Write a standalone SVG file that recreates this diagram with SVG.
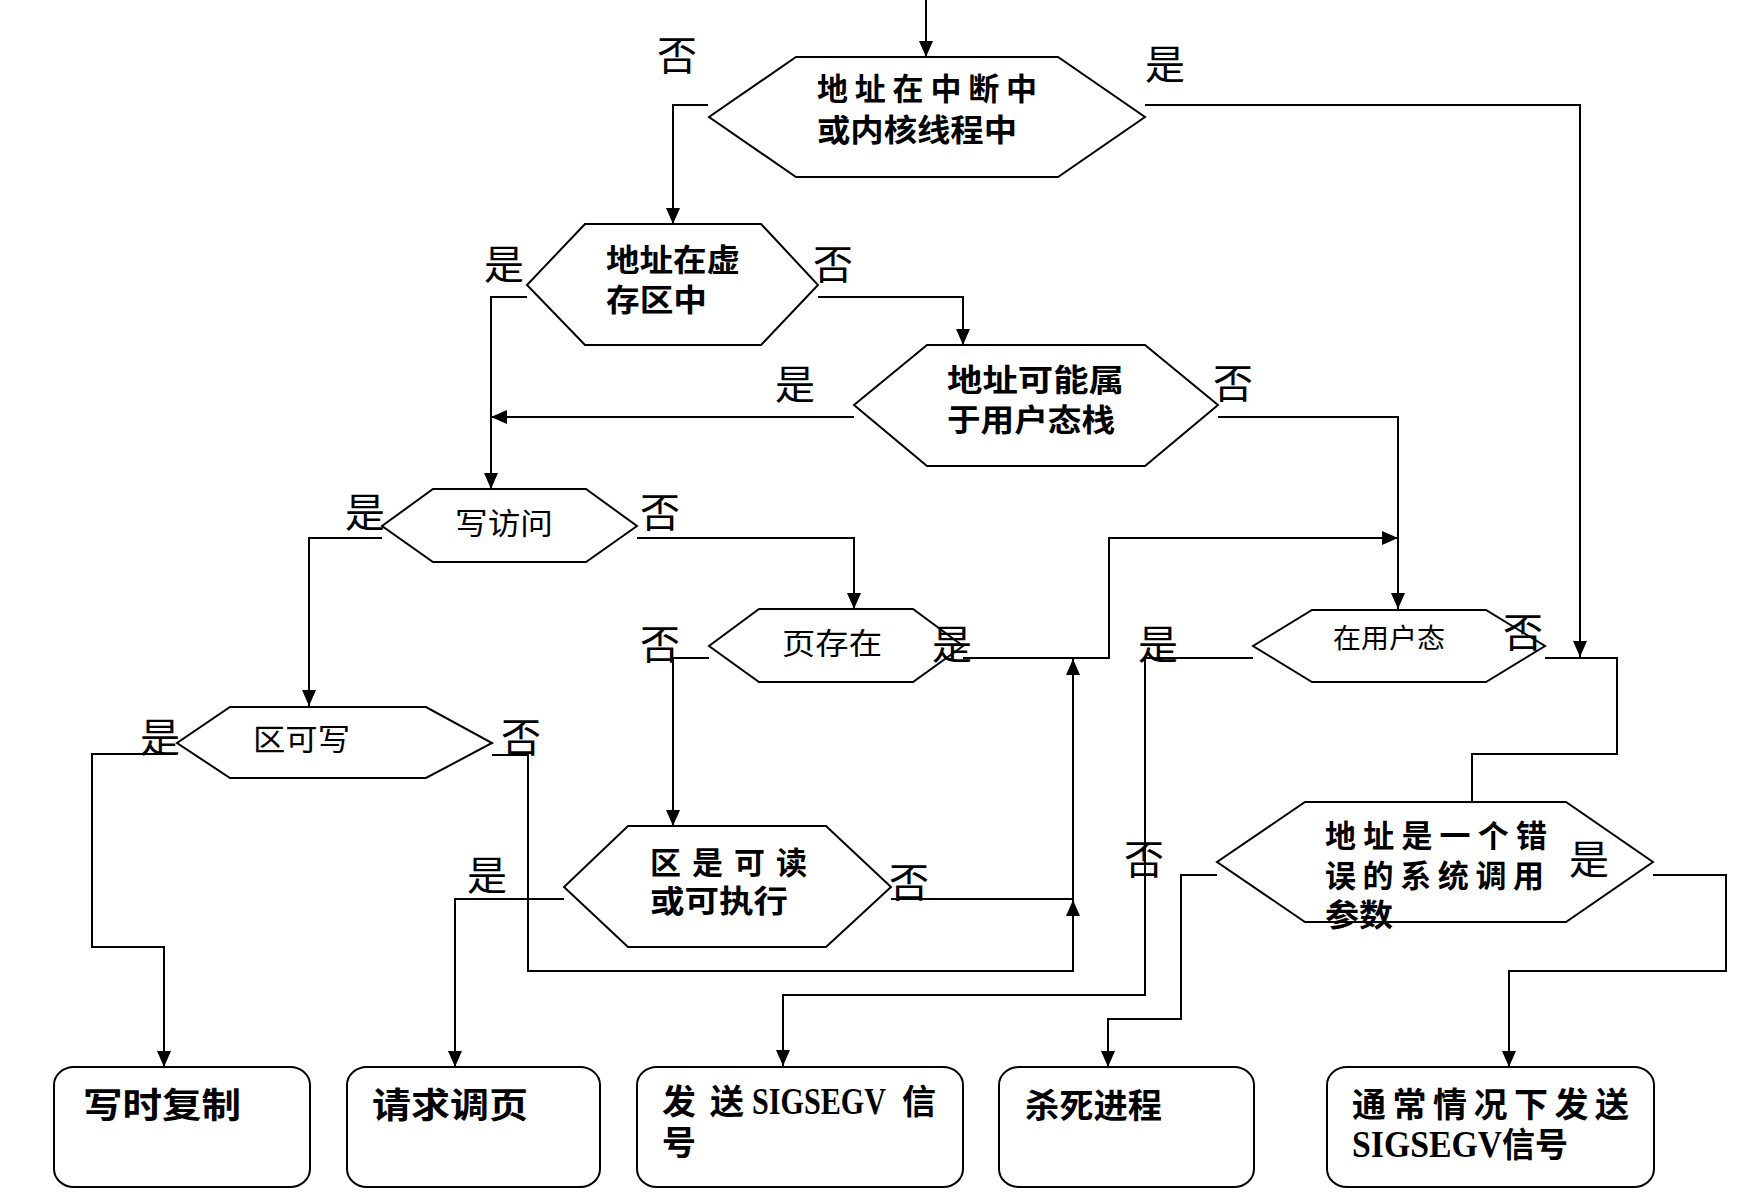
<svg xmlns="http://www.w3.org/2000/svg" width="1748" height="1194" viewBox="0 0 1748 1194">
<style>
.ln{fill:none;stroke:#000;stroke-width:2}
.ar{marker-end:url(#ah)}
.hx{fill:#fff;stroke:#000;stroke-width:2}
.bx{fill:#fff;stroke:#000;stroke-width:2}
.t{font-family:"Noto Sans CJK SC","Liberation Sans",sans-serif;fill:#000}
.b{font-weight:bold}
.f31{font-size:31px}
.f30{font-size:30px}
.f34{font-size:34px}
.lat{font-family:"Liberation Serif","Noto Sans CJK SC",serif;font-weight:bold;font-size:37px}
.lb{font-family:"Noto Sans CJK SC",sans-serif;font-size:40px;fill:#000}
</style>
<defs>
<marker id="ah" markerUnits="userSpaceOnUse" markerWidth="16" markerHeight="14" viewBox="0 0 16 14" refX="16" refY="7" orient="auto">
<path d="M0,0 L16,7 L0,14 z" fill="#000"/>
</marker>
</defs>
<rect width="1748" height="1194" fill="#fff"/>
<g id="connectors">
<path class="ln ar" d="M926,0 V57"/>
<path class="ln ar" d="M708,105 H673 V224"/>
<path class="ln ar" d="M1145,105 H1580 V657"/>
<path class="ln ar" d="M527,297 H491 V489"/>
<path class="ln ar" d="M818,297 H963 V345"/>
<path class="ln ar" d="M854,417 H491"/>
<path class="ln ar" d="M1218,417 H1398 V609"/>
<path class="ln ar" d="M382,538 H309 V706"/>
<path class="ln ar" d="M637,538 H854 V609"/>
<path class="ln ar" d="M709,658 H673 V826"/>
<path class="ln ar" d="M963,658 H1109 V538 H1398"/>
<path class="ln" d="M1253,658 H1145 V995 H783"/>
<path class="ln ar" d="M783,994 V1066"/>
<path class="ln" d="M1545,658 H1617 V754 H1472 V802"/>
<path class="ln" d="M177,754 H92 V947 H164"/>
<path class="ln ar" d="M164,946 V1067"/>
<path class="ln" d="M492,755 H528 V971 H1073"/>
<path class="ln ar" d="M1073,972 V900"/>
<path class="ln" d="M564,899 H455"/>
<path class="ln ar" d="M455,898 V1067"/>
<path class="ln" d="M891,899 H1073"/>
<path class="ln ar" d="M1073,900 V659"/>
<path class="ln" d="M1217,875 H1181 V1019 H1108"/>
<path class="ln ar" d="M1108,1018 V1067"/>
<path class="ln" d="M1653,875 H1726 V971 H1509"/>
<path class="ln ar" d="M1509,970 V1067"/>
</g>
<g id="n-interrupt">
<polygon class="hx" points="796,57 1058,57 1145,117 1058,177 796,177 709,117"/>
<text class="t b f31" x="817" y="100" textLength="220">地址在中断中</text>
<text class="t b f31" x="817" y="141" textLength="200" lengthAdjust="spacingAndGlyphs">或内核线程中</text>
</g>
<g id="n-vm">
<polygon class="hx" points="585,224 761,224 818,285 761,345 585,345 527,285"/>
<text class="t b f31" x="606" y="271" textLength="134" lengthAdjust="spacingAndGlyphs">地址在虚</text>
<text class="t b f31" x="606" y="311" textLength="101" lengthAdjust="spacingAndGlyphs">存区中</text>
</g>
<g id="n-stack">
<polygon class="hx" points="927,345 1145,345 1218,405 1145,466 927,466 854,405"/>
<text class="t b f31" x="947" y="391" textLength="177" lengthAdjust="spacingAndGlyphs">地址可能属</text>
<text class="t b f31" x="947" y="431" textLength="168" lengthAdjust="spacingAndGlyphs">于用户态栈</text>
</g>
<g id="n-write">
<polygon class="hx" points="433,489 586,489 637,526 586,562 433,562 382,526"/>
<text class="t f30" x="455" y="534" textLength="98" lengthAdjust="spacingAndGlyphs">写访问</text>
</g>
<g id="n-page">
<polygon class="hx" points="759,609 913,609 963,646 913,682 759,682 709,646"/>
<text class="t f30" x="782" y="654" textLength="100" lengthAdjust="spacingAndGlyphs">页存在</text>
</g>
<g id="n-usermode">
<polygon class="hx" points="1312,610 1486,610 1545,646 1486,682 1312,682 1253,646"/>
<text class="t" style="font-size:27px" x="1333" y="648" textLength="112" lengthAdjust="spacingAndGlyphs">在用户态</text>
</g>
<g id="n-writable">
<polygon class="hx" points="230,707 426,707 492,743 426,778 230,778 177,743"/>
<text class="t f30" x="253" y="750" textLength="97" lengthAdjust="spacingAndGlyphs">区可写</text>
</g>
<g id="n-readable">
<polygon class="hx" points="628,826 826,826 891,887 826,947 628,947 564,887"/>
<text class="t b f31" x="650" y="874" textLength="157">区是可读</text>
<text class="t b f31" x="650" y="912" textLength="138" lengthAdjust="spacingAndGlyphs">或可执行</text>
</g>
<g id="n-syscall">
<polygon class="hx" points="1305,802 1566,802 1653,862 1566,922 1305,922 1217,862"/>
<text class="t b f31" x="1325" y="847" textLength="222">地址是一个错</text>
<text class="t b f31" x="1325" y="887" textLength="219">误的系统调用</text>
<text class="t b f31" x="1325" y="926" textLength="68" lengthAdjust="spacingAndGlyphs">参数</text>
</g>
<g id="b-cow">
<rect class="bx" x="54" y="1067" width="256" height="120" rx="20" ry="18"/>
<text class="t b" style="font-size:35px" x="83" y="1118" textLength="158" lengthAdjust="spacingAndGlyphs">写时复制</text>
</g>
<g id="b-demand">
<rect class="bx" x="347" y="1067" width="253" height="120" rx="20" ry="18"/>
<text class="t b" style="font-size:35px" x="372" y="1118" textLength="156" lengthAdjust="spacingAndGlyphs">请求调页</text>
</g>
<g id="b-sigsegv">
<rect class="bx" x="637" y="1067" width="326" height="120" rx="20" ry="18"/>
<text class="t b f34" y="1114"><tspan x="662">发</tspan><tspan x="710">送</tspan><tspan class="lat" x="752" textLength="134" lengthAdjust="spacingAndGlyphs">SIGSEGV</tspan><tspan x="902">信</tspan></text>
<text class="t b f34" x="662" y="1155">号</text>
</g>
<g id="b-kill">
<rect class="bx" x="999" y="1067" width="255" height="120" rx="20" ry="18"/>
<text class="t b" style="font-size:34px" x="1025" y="1118" textLength="137" lengthAdjust="spacingAndGlyphs">杀死进程</text>
</g>
<g id="b-usual">
<rect class="bx" x="1327" y="1067" width="327" height="120" rx="20" ry="18"/>
<text class="t b f34" x="1352" y="1117" textLength="277">通常情况下发送</text>
<text class="t b f34" y="1157"><tspan class="lat" x="1352" textLength="150" lengthAdjust="spacingAndGlyphs">SIGSEGV</tspan><tspan x="1502" textLength="66" lengthAdjust="spacingAndGlyphs">信号</tspan></text>
</g>
<g id="labels">
<text class="lb" x="657" y="70">否</text>
<text class="lb" x="1145" y="79">是</text>
<text class="lb" x="484" y="279">是</text>
<text class="lb" x="813" y="279">否</text>
<text class="lb" x="775" y="399">是</text>
<text class="lb" x="1213" y="398">否</text>
<text class="lb" x="345" y="527">是</text>
<text class="lb" x="640" y="527">否</text>
<text class="lb" x="640" y="659">否</text>
<text class="lb" x="932" y="659">是</text>
<text class="lb" x="1138" y="659">是</text>
<text class="lb" x="1503" y="647">否</text>
<text class="lb" x="140" y="752">是</text>
<text class="lb" x="501" y="752">否</text>
<text class="lb" x="467" y="890">是</text>
<text class="lb" x="889" y="897">否</text>
<text class="lb" x="1124" y="874">否</text>
<text class="lb" x="1569" y="874">是</text>
</g>
</svg>
